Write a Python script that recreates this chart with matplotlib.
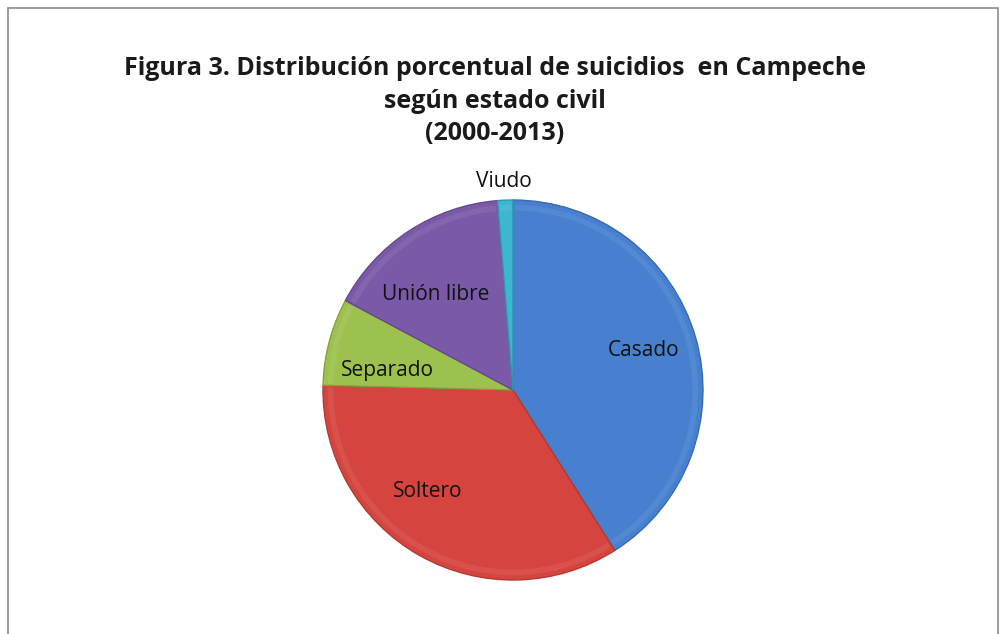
import numpy as np
import matplotlib
matplotlib.use("Agg")
import matplotlib.pyplot as plt
from matplotlib.patches import Rectangle, Wedge

# Suicide distribution by marital status, Campeche 2000-2013 (%)
categories = ["Casado", "Soltero", "Separado", "Unión libre", "Viudo"]
shares = [41.0, 34.4, 7.4, 15.9, 1.3]
colors = ["#4680CF", "#D6443F", "#9DC14E", "#7A5AA8", "#3DB6D2"]
edge_colors = ["#3A6AAE", "#B23A35", "#84A33E", "#65498D", "#2E97AF"]

title = ("Figura 3. Distribución porcentual de suicidios  en Campeche\n"
         "según estado civil\n(2000-2013)")

fig = plt.figure(figsize=(10, 6.34), dpi=100)
fig.patch.set_facecolor("white")

# outer chart frame
fig.add_artist(Rectangle((8 / 1000, -0.1), 990 / 1000, (634 - 8) / 634 + 0.1,
                         transform=fig.transFigure, fill=False,
                         edgecolor="#8C8C8C", linewidth=1.2))

fig.text(0.495, 1 - 101 / 634, title, ha="center", va="center",
         fontsize=18, fontweight="bold", family="Open Sans",
         linespacing=1.42, color="#1a1a1a")

cx, cy, r = 513, 390, 190
ax = fig.add_axes([(cx - r) / 1000, (634 - cy - r) / 634, 2 * r / 1000, 2 * r / 634])
wedges, _ = ax.pie(shares, colors=colors, startangle=90, counterclock=False,
                   radius=1.0, wedgeprops=dict(linewidth=1.0))
for w, ec in zip(wedges, edge_colors):
    w.set_edgecolor(ec)

# faint rim highlight for a bevelled look
for w in wedges:
    ax.add_patch(Wedge((0, 0), 0.975, w.theta1 + 0.6, w.theta2 - 0.6,
                       width=0.03, facecolor="white", alpha=0.07,
                       edgecolor="none"))

# label placement (radius, angle in degrees)
label_pos = {
    "Casado": (0.72, 17),
    "Soltero": (0.70, -130),
    "Separado": (0.67, 171),
    "Unión libre": (0.65, 129),
    "Viudo": (1.10, 92.5),
}
for name in categories:
    rr, ang = label_pos[name]
    ax.text(rr * np.cos(np.radians(ang)), rr * np.sin(np.radians(ang)), name,
            ha="center", va="center", fontsize=15, family="Open Sans",
            color="#111111")

ax.set_xlim(-1, 1)
ax.set_ylim(-1, 1)
ax.set_aspect("auto")
ax.axis("off")

fig.savefig("out.png", dpi=100, facecolor="white")
